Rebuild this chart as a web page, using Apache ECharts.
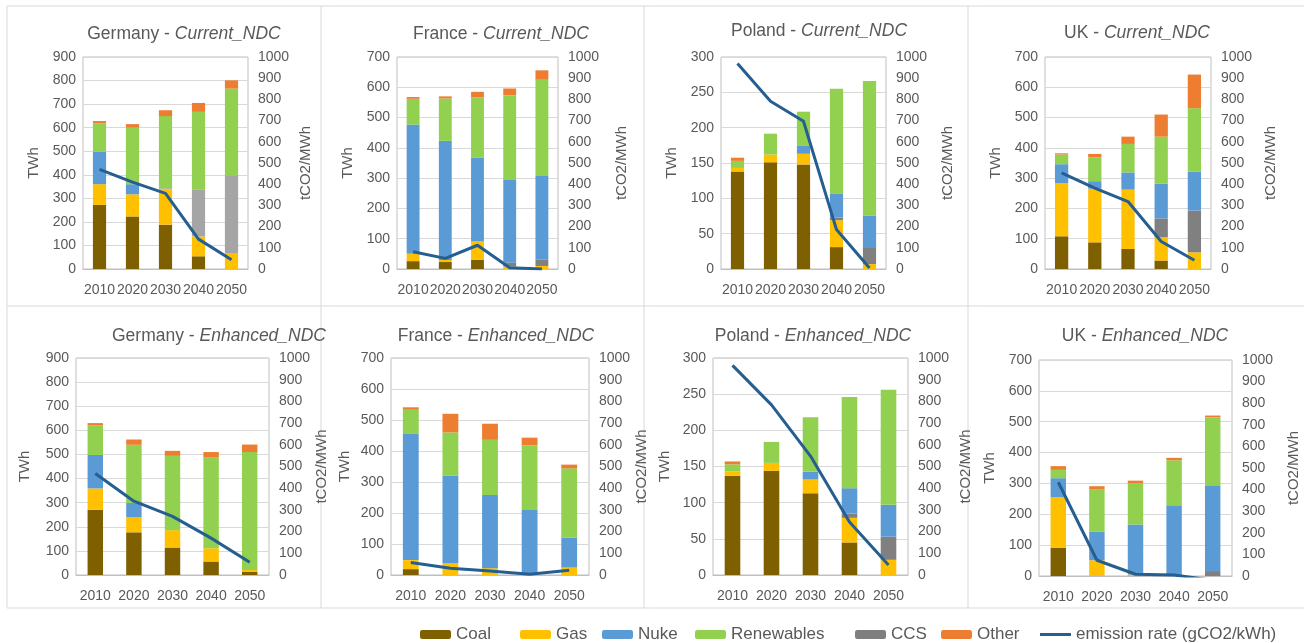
<!DOCTYPE html>
<html><head><meta charset="utf-8">
<script src="https://cdn.jsdelivr.net/npm/echarts@6/dist/echarts.min.js"></script>
<style>html,body{margin:0;padding:0;background:#fff}#c{width:1304px;height:643px}</style>
</head><body><div id="c"></div>
<script>
const years = ['2010', '2020', '2030', '2040', '2050'];
const lineName = 'emission rate (gCO2/kWh)';

// Germany - Current_NDC
const deCurCoal = [272, 223, 188, 54, 0];
const deCurGas = [88, 94, 150, 84, 68];
const deCurCCS = [0, 0, 5, 200, 327];
const deCurNuke = [138, 43, 0, 0, 0];
const deCurRen = [120, 240, 306, 329, 371];
const deCurOther = [10, 15, 25, 38, 35];
const deCurEm = [470, 410, 357, 141, 44];

// France - Current_NDC
const frCurCoal = [26, 23, 31, 0, 0];
const frCurGas = [24, 7, 61, 8, 10];
const frCurCCS = [0, 0, 0, 13, 22];
const frCurNuke = [427, 393, 275, 273, 275];
const frCurRen = [85, 140, 200, 280, 320];
const frCurOther = [6, 7, 18, 22, 29];
const frCurEm = [81, 50, 112, 6, 0];

// Poland - Current_NDC
const plCurCoal = [138, 151, 148, 31, 0];
const plCurGas = [5, 11, 15, 38, 7];
const plCurCCS = [0, 0, 0, 4, 24];
const plCurNuke = [0, 0, 12, 34, 44.5];
const plCurRen = [10, 29.5, 47.6, 148, 190.5];
const plCurOther = [4.5, 0, 0, 0, 0];
const plCurEm = [969, 791, 697, 186, 5];

// UK - Current_NDC
const ukCurCoal = [108, 88, 66, 28, 0];
const ukCurGas = [176, 177, 196, 77, 55];
const ukCurCCS = [0, 0, 0, 62, 138];
const ukCurNuke = [62, 25, 57, 115, 129];
const ukCurRen = [32, 79, 94, 155, 209];
const ukCurOther = [4, 11, 24, 73, 111];
const ukCurEm = [453, 382, 318, 130, 41];

// Germany - Enhanced_NDC
const deEnhCoal = [271, 177, 114, 56, 14];
const deEnhGas = [88, 62, 72, 55, 7];
const deEnhCCS = [0, 0, 0, 0, 0];
const deEnhNuke = [139, 60, 0, 0, 0];
const deEnhRen = [122, 241, 308, 376, 489];
const deEnhOther = [10, 22, 21, 23, 31];
const deEnhEm = [468, 340, 270, 170, 59];

// France - Enhanced_NDC
const frEnhCoal = [19, 0, 0, 0, 0];
const frEnhGas = [29, 38, 22, 0, 24];
const frEnhCCS = [0, 0, 0, 0, 0];
const frEnhNuke = [407, 283, 236, 210, 97];
const frEnhRen = [78, 139, 178, 208, 223];
const frEnhOther = [8, 60, 52, 25, 12];
const frEnhEm = [58, 31, 18, 3, 22];

// Poland - Enhanced_NDC
const plEnhCoal = [137, 144, 113, 45, 0];
const plEnhGas = [6, 11, 19, 34, 21];
const plEnhCCS = [0, 0, 0, 6, 32];
const plEnhNuke = [0, 0, 11, 35, 44];
const plEnhRen = [10, 29, 75, 126, 159];
const plEnhOther = [4, 0, 0, 0, 0];
const plEnhEm = [966, 784, 548, 244, 46];

// UK - Enhanced_NDC
const ukEnhCoal = [92, 0, 0, 0, 0];
const ukEnhGas = [163, 51, 5, 0, 0];
const ukEnhCCS = [0, 0, 0, 0, 16];
const ukEnhNuke = [62, 92, 162, 229, 278];
const ukEnhRen = [27, 137, 134, 146, 220];
const ukEnhOther = [12, 11, 8, 8, 6];
const ukEnhEm = [434, 73, 8, 5, -20];

const seriesNames = ['Coal', 'Gas', 'CCS', 'Nuke', 'Renewables', 'Other'];
const legendOrder = ['Coal', 'Gas', 'Nuke', 'Renewables', 'CCS', 'Other', lineName];
const colors = { Coal: '#7F6000', Gas: '#FFC000', CCS: '#808080', Nuke: '#5B9BD5', Renewables: '#92D050', Other: '#ED7D31' };
const lineColor = '#255E91';

const panels = [
  { c: 'Germany', s: 'Current_NDC', d: [deCurCoal, deCurGas, deCurCCS, deCurNuke, deCurRen, deCurOther], em: deCurEm, max: 900, step: 100, box: [83, 57, 165, 212], tx: 179, ty: 20, ln: 42, rn: 50, ccs: '#A5A5A5' },
  { c: 'France', s: 'Current_NDC', d: [frCurCoal, frCurGas, frCurCCS, frCurNuke, frCurRen, frCurOther], em: frCurEm, max: 700, step: 100, box: [397, 57, 161, 212], tx: 496, ty: 20, ln: 42, rn: 56 },
  { c: 'Poland', s: 'Current_NDC', d: [plCurCoal, plCurGas, plCurCCS, plCurNuke, plCurRen, plCurOther], em: plCurEm, max: 300, step: 50, box: [721, 57, 165, 212], tx: 814, ty: 17, ln: 42, rn: 54 },
  { c: 'UK', s: 'Current_NDC', d: [ukCurCoal, ukCurGas, ukCurCCS, ukCurNuke, ukCurRen, ukCurOther], em: ukCurEm, max: 700, step: 100, box: [1045, 57, 166, 212], tx: 1132, ty: 19, ln: 42, rn: 52 },
  { c: 'Germany', s: 'Enhanced_NDC', d: [deEnhCoal, deEnhGas, deEnhCCS, deEnhNuke, deEnhRen, deEnhOther], em: deEnhEm, max: 900, step: 100, box: [76, 358, 193, 217], tx: 214, ty: 322, ln: 44, rn: 35 },
  { c: 'France', s: 'Enhanced_NDC', d: [frEnhCoal, frEnhGas, frEnhCCS, frEnhNuke, frEnhRen, frEnhOther], em: frEnhEm, max: 700, step: 100, box: [391, 358, 198, 217], tx: 491, ty: 322, ln: 39, rn: 39 },
  { c: 'Poland', s: 'Enhanced_NDC', d: [plEnhCoal, plEnhGas, plEnhCCS, plEnhNuke, plEnhRen, plEnhOther], em: plEnhEm, max: 300, step: 50, box: [713, 358, 195, 217], tx: 808, ty: 322, ln: 41, rn: 50 },
  { c: 'UK', s: 'Enhanced_NDC', d: [ukEnhCoal, ukEnhGas, ukEnhCCS, ukEnhNuke, ukEnhRen, ukEnhOther], em: ukEnhEm, max: 700, step: 100, box: [1039, 360, 193, 216], tx: 1140, ty: 322, ln: 42, rn: 54 }
];

const FONT = 'Liberation Sans';
const txt = '#595959';
const grids = [], xAxes = [], yAxes = [], series = [], titles = [];

panels.forEach((p, i) => {
  grids.push({ left: p.box[0], top: p.box[1], width: p.box[2], height: p.box[3], show: true, borderColor: '#BFBFBF', borderWidth: 1, containLabel: false });
  xAxes.push({
    type: 'category', gridIndex: i, data: years,
    axisLine: { show: true, lineStyle: { color: '#BFBFBF' } }, axisTick: { show: false },
    axisLabel: { color: txt, fontSize: 14, fontFamily: FONT, margin: 14, interval: 0, hideOverlap: false }
  });
  yAxes.push({
    type: 'value', gridIndex: i, position: 'left', min: 0, max: p.max, interval: p.step,
    name: 'TWh', nameLocation: 'middle', nameGap: p.ln, nameRotate: 90,
    nameTextStyle: { color: txt, fontSize: 15, fontFamily: FONT },
    axisLine: { show: false }, axisTick: { show: false },
    axisLabel: { color: txt, fontSize: 14, fontFamily: FONT, margin: 7, formatter: v => String(v) },
    splitLine: { show: true, lineStyle: { color: '#D9D9D9', width: 1 } }
  });
  yAxes.push({
    type: 'value', gridIndex: i, position: 'right', min: 0, max: 1000, interval: 100,
    name: 'tCO2/MWh', nameLocation: 'middle', nameGap: p.rn, nameRotate: 90,
    nameTextStyle: { color: txt, fontSize: 15, fontFamily: FONT },
    axisLine: { show: false }, axisTick: { show: false },
    axisLabel: { color: txt, fontSize: 14, fontFamily: FONT, margin: 10, formatter: v => String(v) },
    splitLine: { show: false }
  });
  seriesNames.forEach((n, k) => {
    series.push({
      name: n, type: 'bar', stack: 'p' + i, xAxisIndex: i, yAxisIndex: 2 * i,
      data: p.d[k], barWidth: '40%',
      itemStyle: { color: (n === 'CCS' && p.ccs) ? p.ccs : colors[n] },
      emphasis: { disabled: true }, animation: false
    });
  });
  series.push({
    name: lineName, type: 'line', xAxisIndex: i, yAxisIndex: 2 * i + 1, data: p.em,
    symbol: 'none', clip: true, z: 5,
    lineStyle: { color: lineColor, width: 3 }, itemStyle: { color: lineColor },
    emphasis: { disabled: true }, animation: false
  });
  titles.push({
    text: '{n|' + p.c + ' - }{i|' + p.s + '}', left: p.tx, top: p.ty, textAlign: 'center',
    textStyle: {
      fontWeight: 'normal',
      rich: {
        n: { fontSize: 17.5, color: txt, fontFamily: FONT, fontWeight: 'normal' },
        i: { fontSize: 17.5, color: txt, fontFamily: FONT, fontStyle: 'italic', fontWeight: 'normal' }
      }
    }
  });
});

const legendX = [415, 515, 597, 690, 850, 936, 1035];
const legends = legendOrder.map((n, k) => {
  const isLine = n === lineName;
  let item = n;
  if (n === 'CCS') item = { name: n, itemStyle: { color: '#7F7F7F' } };
  if (isLine) item = { name: n, icon: 'rect', itemStyle: { color: lineColor } };
  return {
    data: [item],
    left: legendX[k], top: 621, itemWidth: 31, itemHeight: isLine ? 3 : 9, itemGap: 0,
    selectedMode: false, textStyle: { color: txt, fontSize: 17, fontFamily: FONT }
  };
});

const border = '#D9D9D9';
const vl = [7, 321, 644, 968];
const hl = [6, 306, 608];
const graphics = [];
vl.forEach(x => graphics.push({ type: 'line', shape: { x1: x, y1: 6, x2: x, y2: 608 }, style: { stroke: border, lineWidth: 1 }, silent: true }));
hl.forEach(y => graphics.push({ type: 'line', shape: { x1: 7, y1: y, x2: 1304, y2: y }, style: { stroke: border, lineWidth: 1 }, silent: true }));

const chart = echarts.init(document.getElementById('c'), null, { renderer: 'canvas' });
chart.setOption({
  backgroundColor: '#fff',
  animation: false,
  title: titles,
  legend: legends,
  grid: grids,
  xAxis: xAxes,
  yAxis: yAxes,
  series: series,
  graphic: graphics
});
</script>
</body></html>
